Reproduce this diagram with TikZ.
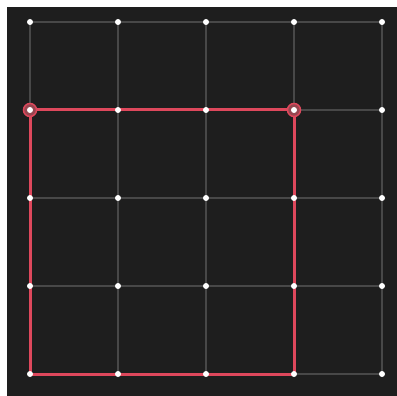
\documentclass[tikz,border=0pt]{standalone}
\definecolor{pathred}{RGB}{222,72,92}
\definecolor{ringfill}{RGB}{150,70,80}
\definecolor{bgdark}{RGB}{30,30,30}
\definecolor{gridgray}{RGB}{72,72,72}
\begin{document}
\begin{tikzpicture}[x=1pt,y=-1pt,
  gridline/.style={draw=gridgray, line width=1.8pt},
  redline/.style={draw=pathred, line width=3pt, line join=miter},
  dotnode/.style={circle, fill=white, inner sep=0pt, minimum size=6pt},
  ringnode/.style={circle, draw=pathred, fill=ringfill, line width=1.5pt, inner sep=0pt, minimum size=13pt}]
\useasboundingbox (0,0) rectangle (397,396);
\fill[white] (0,0) rectangle (397,396);
\fill[bgdark] (7,7) rectangle (397,396);
% grid lines
\foreach \i in {0,...,4} {
  \draw[gridline] (30+88*\i,22) -- (30+88*\i,374);
  \draw[gridline] (30,22+88*\i) -- (382,22+88*\i);
}
% red path
\coordinate (a) at (294,110);
\coordinate (b) at (30,110);
\coordinate (c) at (30,374);
\coordinate (d) at (294,374);
\draw[redline] (a) -- (b) -- (c) -- (d) -- cycle;
\node[ringnode] (rb) at (b) {};
\node[ringnode] (ra) at (a) {};
% dots
\foreach \i in {0,...,4} {
  \foreach \j in {0,...,4} {
    \node[dotnode] (p\i\j) at (30+88*\i,22+88*\j) {};
  }
}
\end{tikzpicture}
\end{document}
